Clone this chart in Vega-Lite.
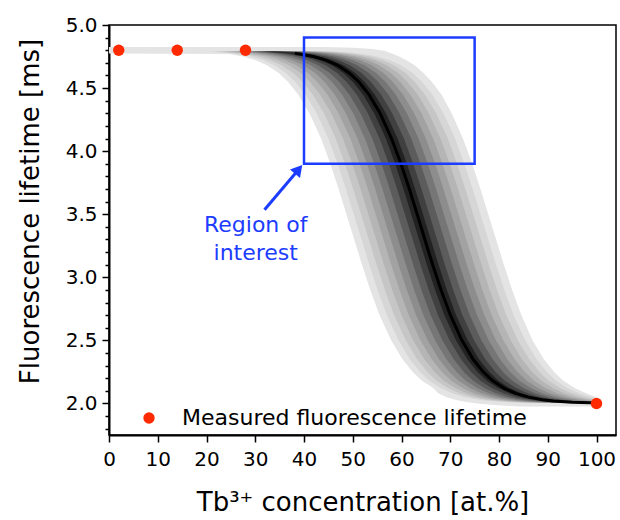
{
"$schema": "https://vega.github.io/schema/vega-lite/v6.json",
"width": 507, "height": 410,
"autosize": "none",
"padding": {"left": 109, "top": 25, "right": 4, "bottom": 85},
"config": {"font": "DejaVu Sans", "view": {"stroke": "black", "strokeWidth": 1.5}},
"resolve": {"axis": {"y": "independent"}},
"datasets": {
"bands": [
{"b":1,"y":4.826,"x":0,"x2":44},{"b":1,"y":4.82,"x":0,"x2":50},{"b":1,"y":4.81,"x":0,"x2":54},{"b":1,"y":4.795,"x":0,"x2":56.5},{"b":1,"y":4.775,"x":0,"x2":58.0},{"b":1,"y":4.77,"x":24.6,"x2":58.3},{"b":1,"y":4.75,"x":27.5,"x2":59.5},{"b":1,"y":4.72,"x":30.1,"x2":61.0},{"b":1,"y":4.68,"x":32.4,"x2":62.7},{"b":1,"y":4.62,"x":34.8,"x2":64.5},{"b":1,"y":4.55,"x":36.7,"x2":66.2},{"b":1,"y":4.45,"x":38.8,"x2":68.2},{"b":1,"y":4.3,"x":41.1,"x2":70.3},{"b":1,"y":4.1,"x":43.5,"x2":72.6},{"b":1,"y":3.9,"x":45.4,"x2":74.5},{"b":1,"y":3.7,"x":47.1,"x2":76.2},{"b":1,"y":3.5,"x":48.7,"x2":77.8},{"b":1,"y":3.3,"x":50.3,"x2":79.4},{"b":1,"y":3.1,"x":51.9,"x2":81.0},{"b":1,"y":2.9,"x":53.6,"x2":82.7},{"b":1,"y":2.7,"x":55.5,"x2":84.6},{"b":1,"y":2.5,"x":57.9,"x2":86.9},{"b":1,"y":2.35,"x":60.2,"x2":89.2},{"b":1,"y":2.25,"x":62.3,"x2":91.3},{"b":1,"y":2.18,"x":64.2,"x2":93.2},{"b":1,"y":2.12,"x":66.6,"x2":95.6},{"b":1,"y":2.08,"x":67.5,"x2":97.9},{"b":1,"y":2.05,"x":69.3,"x2":100},{"b":1,"y":2.03,"x":71.0,"x2":100},{"b":1,"y":2.02,"x":72.2,"x2":100},{"b":1,"y":2.01,"x":73.6,"x2":100},{"b":1,"y":2.0,"x":75.5,"x2":100},{"b":1,"y":1.988,"x":79,"x2":100},{"b":1,"y":1.976,"x":84,"x2":100},
{"b":2,"y":4.79,"x":20.0,"x2":46.0},{"b":2,"y":4.78,"x":23.9,"x2":49.9},{"b":2,"y":4.77,"x":26.1,"x2":52.1},{"b":2,"y":4.75,"x":29.0,"x2":55.0},{"b":2,"y":4.72,"x":31.6,"x2":57.6},{"b":2,"y":4.68,"x":33.9,"x2":59.9},{"b":2,"y":4.62,"x":36.3,"x2":62.3},{"b":2,"y":4.55,"x":38.2,"x2":64.2},{"b":2,"y":4.45,"x":40.3,"x2":66.3},{"b":2,"y":4.3,"x":42.6,"x2":68.6},{"b":2,"y":4.1,"x":45.0,"x2":71.0},{"b":2,"y":3.9,"x":46.9,"x2":72.9},{"b":2,"y":3.7,"x":48.6,"x2":74.6},{"b":2,"y":3.5,"x":50.2,"x2":76.2},{"b":2,"y":3.3,"x":51.8,"x2":77.8},{"b":2,"y":3.1,"x":53.4,"x2":79.4},{"b":2,"y":2.9,"x":55.1,"x2":81.1},{"b":2,"y":2.7,"x":57.0,"x2":83.0},{"b":2,"y":2.5,"x":59.4,"x2":85.4},{"b":2,"y":2.35,"x":61.7,"x2":87.7},{"b":2,"y":2.25,"x":63.8,"x2":89.8},{"b":2,"y":2.18,"x":65.7,"x2":91.7},{"b":2,"y":2.12,"x":68.1,"x2":94.1},{"b":2,"y":2.08,"x":70.4,"x2":96.4},{"b":2,"y":2.05,"x":73.0,"x2":99.0},{"b":2,"y":2.03,"x":75.9,"x2":100},{"b":2,"y":2.02,"x":78.1,"x2":100},{"b":2,"y":2.01,"x":82.0,"x2":100},{"b":2,"y":2.005,"x":85.8,"x2":100},
{"b":3,"y":4.79,"x":21.5,"x2":44.5},{"b":3,"y":4.78,"x":25.4,"x2":48.4},{"b":3,"y":4.77,"x":27.6,"x2":50.6},{"b":3,"y":4.75,"x":30.5,"x2":53.5},{"b":3,"y":4.72,"x":33.1,"x2":56.1},{"b":3,"y":4.68,"x":35.4,"x2":58.4},{"b":3,"y":4.62,"x":37.8,"x2":60.8},{"b":3,"y":4.55,"x":39.7,"x2":62.7},{"b":3,"y":4.45,"x":41.8,"x2":64.8},{"b":3,"y":4.3,"x":44.1,"x2":67.1},{"b":3,"y":4.1,"x":46.5,"x2":69.5},{"b":3,"y":3.9,"x":48.4,"x2":71.4},{"b":3,"y":3.7,"x":50.1,"x2":73.1},{"b":3,"y":3.5,"x":51.7,"x2":74.7},{"b":3,"y":3.3,"x":53.3,"x2":76.3},{"b":3,"y":3.1,"x":54.9,"x2":77.9},{"b":3,"y":2.9,"x":56.6,"x2":79.6},{"b":3,"y":2.7,"x":58.5,"x2":81.5},{"b":3,"y":2.5,"x":60.9,"x2":83.9},{"b":3,"y":2.35,"x":63.2,"x2":86.2},{"b":3,"y":2.25,"x":65.3,"x2":88.3},{"b":3,"y":2.18,"x":67.2,"x2":90.2},{"b":3,"y":2.12,"x":69.6,"x2":92.6},{"b":3,"y":2.08,"x":71.9,"x2":94.9},{"b":3,"y":2.05,"x":74.5,"x2":97.5},{"b":3,"y":2.03,"x":77.4,"x2":100},{"b":3,"y":2.02,"x":79.6,"x2":100},{"b":3,"y":2.01,"x":83.5,"x2":100},{"b":3,"y":2.005,"x":87.3,"x2":100},
{"b":4,"y":4.79,"x":23.0,"x2":43.0},{"b":4,"y":4.78,"x":26.9,"x2":46.9},{"b":4,"y":4.77,"x":29.1,"x2":49.1},{"b":4,"y":4.75,"x":32.0,"x2":52.0},{"b":4,"y":4.72,"x":34.6,"x2":54.6},{"b":4,"y":4.68,"x":36.9,"x2":56.9},{"b":4,"y":4.62,"x":39.3,"x2":59.3},{"b":4,"y":4.55,"x":41.2,"x2":61.2},{"b":4,"y":4.45,"x":43.3,"x2":63.3},{"b":4,"y":4.3,"x":45.6,"x2":65.6},{"b":4,"y":4.1,"x":48.0,"x2":68.0},{"b":4,"y":3.9,"x":49.9,"x2":69.9},{"b":4,"y":3.7,"x":51.6,"x2":71.6},{"b":4,"y":3.5,"x":53.2,"x2":73.2},{"b":4,"y":3.3,"x":54.8,"x2":74.8},{"b":4,"y":3.1,"x":56.4,"x2":76.4},{"b":4,"y":2.9,"x":58.1,"x2":78.1},{"b":4,"y":2.7,"x":60.0,"x2":80.0},{"b":4,"y":2.5,"x":62.4,"x2":82.4},{"b":4,"y":2.35,"x":64.7,"x2":84.7},{"b":4,"y":2.25,"x":66.8,"x2":86.8},{"b":4,"y":2.18,"x":68.7,"x2":88.7},{"b":4,"y":2.12,"x":71.1,"x2":91.1},{"b":4,"y":2.08,"x":73.4,"x2":93.4},{"b":4,"y":2.05,"x":76.0,"x2":96.0},{"b":4,"y":2.03,"x":78.9,"x2":98.9},{"b":4,"y":2.02,"x":81.1,"x2":100},{"b":4,"y":2.01,"x":85.0,"x2":100},{"b":4,"y":2.005,"x":88.8,"x2":100},
{"b":5,"y":4.79,"x":24.5,"x2":41.5},{"b":5,"y":4.78,"x":28.4,"x2":45.4},{"b":5,"y":4.77,"x":30.6,"x2":47.6},{"b":5,"y":4.75,"x":33.5,"x2":50.5},{"b":5,"y":4.72,"x":36.1,"x2":53.1},{"b":5,"y":4.68,"x":38.4,"x2":55.4},{"b":5,"y":4.62,"x":40.8,"x2":57.8},{"b":5,"y":4.55,"x":42.7,"x2":59.7},{"b":5,"y":4.45,"x":44.8,"x2":61.8},{"b":5,"y":4.3,"x":47.1,"x2":64.1},{"b":5,"y":4.1,"x":49.5,"x2":66.5},{"b":5,"y":3.9,"x":51.4,"x2":68.4},{"b":5,"y":3.7,"x":53.1,"x2":70.1},{"b":5,"y":3.5,"x":54.7,"x2":71.7},{"b":5,"y":3.3,"x":56.3,"x2":73.3},{"b":5,"y":3.1,"x":57.9,"x2":74.9},{"b":5,"y":2.9,"x":59.6,"x2":76.6},{"b":5,"y":2.7,"x":61.5,"x2":78.5},{"b":5,"y":2.5,"x":63.9,"x2":80.9},{"b":5,"y":2.35,"x":66.2,"x2":83.2},{"b":5,"y":2.25,"x":68.3,"x2":85.3},{"b":5,"y":2.18,"x":70.2,"x2":87.2},{"b":5,"y":2.12,"x":72.6,"x2":89.6},{"b":5,"y":2.08,"x":74.9,"x2":91.9},{"b":5,"y":2.05,"x":77.5,"x2":94.5},{"b":5,"y":2.03,"x":80.4,"x2":97.4},{"b":5,"y":2.02,"x":82.6,"x2":99.6},{"b":5,"y":2.01,"x":86.5,"x2":100},{"b":5,"y":2.005,"x":90.3,"x2":100},
{"b":6,"y":4.79,"x":26.0,"x2":40.0},{"b":6,"y":4.78,"x":29.9,"x2":43.9},{"b":6,"y":4.77,"x":32.1,"x2":46.1},{"b":6,"y":4.75,"x":35.0,"x2":49.0},{"b":6,"y":4.72,"x":37.6,"x2":51.6},{"b":6,"y":4.68,"x":39.9,"x2":53.9},{"b":6,"y":4.62,"x":42.3,"x2":56.3},{"b":6,"y":4.55,"x":44.2,"x2":58.2},{"b":6,"y":4.45,"x":46.3,"x2":60.3},{"b":6,"y":4.3,"x":48.6,"x2":62.6},{"b":6,"y":4.1,"x":51.0,"x2":65.0},{"b":6,"y":3.9,"x":52.9,"x2":66.9},{"b":6,"y":3.7,"x":54.6,"x2":68.6},{"b":6,"y":3.5,"x":56.2,"x2":70.2},{"b":6,"y":3.3,"x":57.8,"x2":71.8},{"b":6,"y":3.1,"x":59.4,"x2":73.4},{"b":6,"y":2.9,"x":61.1,"x2":75.1},{"b":6,"y":2.7,"x":63.0,"x2":77.0},{"b":6,"y":2.5,"x":65.4,"x2":79.4},{"b":6,"y":2.35,"x":67.7,"x2":81.7},{"b":6,"y":2.25,"x":69.8,"x2":83.8},{"b":6,"y":2.18,"x":71.7,"x2":85.7},{"b":6,"y":2.12,"x":74.1,"x2":88.1},{"b":6,"y":2.08,"x":76.4,"x2":90.4},{"b":6,"y":2.05,"x":79.0,"x2":93.0},{"b":6,"y":2.03,"x":81.9,"x2":95.9},{"b":6,"y":2.02,"x":84.1,"x2":98.1},{"b":6,"y":2.01,"x":88.0,"x2":100},{"b":6,"y":2.005,"x":91.8,"x2":100},
{"b":7,"y":4.79,"x":27.5,"x2":38.5},{"b":7,"y":4.78,"x":31.4,"x2":42.4},{"b":7,"y":4.77,"x":33.6,"x2":44.6},{"b":7,"y":4.75,"x":36.5,"x2":47.5},{"b":7,"y":4.72,"x":39.1,"x2":50.1},{"b":7,"y":4.68,"x":41.4,"x2":52.4},{"b":7,"y":4.62,"x":43.8,"x2":54.8},{"b":7,"y":4.55,"x":45.7,"x2":56.7},{"b":7,"y":4.45,"x":47.8,"x2":58.8},{"b":7,"y":4.3,"x":50.1,"x2":61.1},{"b":7,"y":4.1,"x":52.5,"x2":63.5},{"b":7,"y":3.9,"x":54.4,"x2":65.4},{"b":7,"y":3.7,"x":56.1,"x2":67.1},{"b":7,"y":3.5,"x":57.7,"x2":68.7},{"b":7,"y":3.3,"x":59.3,"x2":70.3},{"b":7,"y":3.1,"x":60.9,"x2":71.9},{"b":7,"y":2.9,"x":62.6,"x2":73.6},{"b":7,"y":2.7,"x":64.5,"x2":75.5},{"b":7,"y":2.5,"x":66.9,"x2":77.9},{"b":7,"y":2.35,"x":69.2,"x2":80.2},{"b":7,"y":2.25,"x":71.3,"x2":82.3},{"b":7,"y":2.18,"x":73.2,"x2":84.2},{"b":7,"y":2.12,"x":75.6,"x2":86.6},{"b":7,"y":2.08,"x":77.9,"x2":88.9},{"b":7,"y":2.05,"x":80.5,"x2":91.5},{"b":7,"y":2.03,"x":83.4,"x2":94.4},{"b":7,"y":2.02,"x":85.6,"x2":96.6},{"b":7,"y":2.01,"x":89.5,"x2":100},{"b":7,"y":2.005,"x":93.3,"x2":100},
{"b":8,"y":4.79,"x":29.0,"x2":37.0},{"b":8,"y":4.78,"x":32.9,"x2":40.9},{"b":8,"y":4.77,"x":35.1,"x2":43.1},{"b":8,"y":4.75,"x":38.0,"x2":46.0},{"b":8,"y":4.72,"x":40.6,"x2":48.6},{"b":8,"y":4.68,"x":42.9,"x2":50.9},{"b":8,"y":4.62,"x":45.3,"x2":53.3},{"b":8,"y":4.55,"x":47.2,"x2":55.2},{"b":8,"y":4.45,"x":49.3,"x2":57.3},{"b":8,"y":4.3,"x":51.6,"x2":59.6},{"b":8,"y":4.1,"x":54.0,"x2":62.0},{"b":8,"y":3.9,"x":55.9,"x2":63.9},{"b":8,"y":3.7,"x":57.6,"x2":65.6},{"b":8,"y":3.5,"x":59.2,"x2":67.2},{"b":8,"y":3.3,"x":60.8,"x2":68.8},{"b":8,"y":3.1,"x":62.4,"x2":70.4},{"b":8,"y":2.9,"x":64.1,"x2":72.1},{"b":8,"y":2.7,"x":66.0,"x2":74.0},{"b":8,"y":2.5,"x":68.4,"x2":76.4},{"b":8,"y":2.35,"x":70.7,"x2":78.7},{"b":8,"y":2.25,"x":72.8,"x2":80.8},{"b":8,"y":2.18,"x":74.7,"x2":82.7},{"b":8,"y":2.12,"x":77.1,"x2":85.1},{"b":8,"y":2.08,"x":79.4,"x2":87.4},{"b":8,"y":2.05,"x":82.0,"x2":90.0},{"b":8,"y":2.03,"x":84.9,"x2":92.9},{"b":8,"y":2.02,"x":87.1,"x2":95.1},{"b":8,"y":2.01,"x":91.0,"x2":99.0},{"b":8,"y":2.005,"x":94.8,"x2":100},
{"b":9,"y":4.79,"x":30.5,"x2":35.5},{"b":9,"y":4.78,"x":34.4,"x2":39.4},{"b":9,"y":4.77,"x":36.6,"x2":41.6},{"b":9,"y":4.75,"x":39.5,"x2":44.5},{"b":9,"y":4.72,"x":42.1,"x2":47.1},{"b":9,"y":4.68,"x":44.4,"x2":49.4},{"b":9,"y":4.62,"x":46.8,"x2":51.8},{"b":9,"y":4.55,"x":48.7,"x2":53.7},{"b":9,"y":4.45,"x":50.8,"x2":55.8},{"b":9,"y":4.3,"x":53.1,"x2":58.1},{"b":9,"y":4.1,"x":55.5,"x2":60.5},{"b":9,"y":3.9,"x":57.4,"x2":62.4},{"b":9,"y":3.7,"x":59.1,"x2":64.1},{"b":9,"y":3.5,"x":60.7,"x2":65.7},{"b":9,"y":3.3,"x":62.3,"x2":67.3},{"b":9,"y":3.1,"x":63.9,"x2":68.9},{"b":9,"y":2.9,"x":65.6,"x2":70.6},{"b":9,"y":2.7,"x":67.5,"x2":72.5},{"b":9,"y":2.5,"x":69.9,"x2":74.9},{"b":9,"y":2.35,"x":72.2,"x2":77.2},{"b":9,"y":2.25,"x":74.3,"x2":79.3},{"b":9,"y":2.18,"x":76.2,"x2":81.2},{"b":9,"y":2.12,"x":78.6,"x2":83.6},{"b":9,"y":2.08,"x":80.9,"x2":85.9},{"b":9,"y":2.05,"x":83.5,"x2":88.5},{"b":9,"y":2.03,"x":86.4,"x2":91.4},{"b":9,"y":2.02,"x":88.6,"x2":93.6},{"b":9,"y":2.01,"x":92.5,"x2":97.5},{"b":9,"y":2.005,"x":96.3,"x2":100},
{"b":10,"y":4.79,"x":31.8,"x2":34.2},{"b":10,"y":4.78,"x":35.7,"x2":38.1},{"b":10,"y":4.77,"x":37.9,"x2":40.3},{"b":10,"y":4.75,"x":40.8,"x2":43.2},{"b":10,"y":4.72,"x":43.4,"x2":45.8},{"b":10,"y":4.68,"x":45.7,"x2":48.1},{"b":10,"y":4.62,"x":48.1,"x2":50.5},{"b":10,"y":4.55,"x":50.0,"x2":52.4},{"b":10,"y":4.45,"x":52.1,"x2":54.5},{"b":10,"y":4.3,"x":54.4,"x2":56.8},{"b":10,"y":4.1,"x":56.8,"x2":59.2},{"b":10,"y":3.9,"x":58.7,"x2":61.1},{"b":10,"y":3.7,"x":60.4,"x2":62.8},{"b":10,"y":3.5,"x":62.0,"x2":64.4},{"b":10,"y":3.3,"x":63.6,"x2":66.0},{"b":10,"y":3.1,"x":65.2,"x2":67.6},{"b":10,"y":2.9,"x":66.9,"x2":69.3},{"b":10,"y":2.7,"x":68.8,"x2":71.2},{"b":10,"y":2.5,"x":71.2,"x2":73.6},{"b":10,"y":2.35,"x":73.5,"x2":75.9},{"b":10,"y":2.25,"x":75.6,"x2":78.0},{"b":10,"y":2.18,"x":77.5,"x2":79.9},{"b":10,"y":2.12,"x":79.9,"x2":82.3},{"b":10,"y":2.08,"x":82.2,"x2":84.6},{"b":10,"y":2.05,"x":84.8,"x2":87.2},{"b":10,"y":2.03,"x":87.7,"x2":90.1},{"b":10,"y":2.02,"x":89.9,"x2":92.3},{"b":10,"y":2.01,"x":93.8,"x2":96.2},{"b":10,"y":2.005,"x":97.6,"x2":100}
],
"center": [
{"x":38.1,"y":4.775},{"x":39.11,"y":4.77},{"x":41.96,"y":4.75},{"x":44.6,"y":4.72},{"x":46.92,"y":4.68},{"x":49.27,"y":4.62},{"x":51.23,"y":4.55},{"x":53.3,"y":4.45},{"x":55.61,"y":4.3},{"x":57.96,"y":4.1},{"x":59.89,"y":3.9},{"x":61.61,"y":3.7},{"x":63.21,"y":3.5},{"x":64.79,"y":3.3},{"x":66.39,"y":3.1},{"x":68.11,"y":2.9},{"x":70.04,"y":2.7},{"x":72.39,"y":2.5},{"x":74.7,"y":2.35},{"x":76.77,"y":2.25},{"x":78.73,"y":2.18},{"x":81.08,"y":2.12},{"x":83.4,"y":2.08},{"x":86.04,"y":2.05},{"x":88.89,"y":2.03},{"x":91.14,"y":2.02},{"x":94.97,"y":2.01},{"x":98.79,"y":2.005},{"x":100,"y":2.003}
],
"measured": [
{"x":2,"y":4.8},{"x":14,"y":4.8},{"x":28,"y":4.8},{"x":100,"y":2.0}
],
"roi": [{"x1":40,"x2":75,"y1":3.9,"y2":4.9}],
"arrow": [{"x1":31.9,"y1":3.535,"x2":38.9,"y2":3.855}],
"label": [{"x":30.1,"y":3.415,"t":"Region of\ninterest"}]
},
"layer": [
{
"data": {"name": "bands"},
"mark": {"type": "area", "orient": "horizontal", "strokeWidth": 0},
"encoding": {
"y": {"field": "y", "type": "quantitative", "scale": {"domain": [1.75, 5.0], "nice": false, "zero": false},
"axis": {"orient": "left", "values": [2.0,2.5,3.0,3.5,4.0,4.5,5.0], "format": ".1f", "tickSize": 7,
"tickWidth": 1.5, "tickColor": "black", "domainColor": "black", "domainWidth": 2,
"labelFontSize": 20, "labelColor": "black", "labelPadding": 5, "labelFlush": false, "labelOverlap": false, "grid": false,
"title": "Fluorescence lifetime [ms]", "titleFontSize": 26, "titleFontWeight": "normal", "titleColor": "black", "titlePadding": 22, "titleY": 186}},
"x": {"field": "x", "type": "quantitative", "stack": null, "scale": {"domain": [0, 104], "nice": false, "zero": false},
"axis": {"values": [0,10,20,30,40,50,60,70,80,90,100], "tickSize": 7, "tickWidth": 1.5, "tickColor": "black", "domainColor": "black", "domainWidth": 2,
"labelFontSize": 20, "labelColor": "black", "labelPadding": 7, "labelFlush": false, "grid": false,
"title": "Tb³⁺ concentration [at.%]", "titleFontSize": 26, "titleFontWeight": "normal", "titleColor": "black", "titlePadding": 20}},
"x2": {"field": "x2"},
"fill": {"field": "b", "type": "ordinal", "legend": null,
"scale": {"domain": [1,2,3,4,5,6,7,8,9,10], "range": ["#e4e4e4","#d6d6d6","#c6c6c6","#b5b5b5","#a2a2a2","#8d8d8d","#767676","#5c5c5c","#404040","#222222"]}}
}
},
{
"data": {"name": "center"},
"mark": {"type": "line", "color": "black", "strokeWidth": 3},
"encoding": {"x": {"field": "x", "type": "quantitative"},
"y": {"field": "y", "type": "quantitative",
"axis": {"orient": "left", "values": [1.8,1.9,2.1,2.2,2.3,2.4,2.6,2.7,2.8,2.9,3.1,3.2,3.3,3.4,3.6,3.7,3.8,3.9,4.1,4.2,4.3,4.4,4.6,4.7,4.8,4.9], "tickSize": 4, "tickWidth": 1.5, "tickColor": "black", "labels": false, "domain": false, "grid": false, "title": null}}}
},
{
"data": {"name": "roi"},
"mark": {"type": "rect", "fillOpacity": 0, "stroke": "#1c3cff", "strokeWidth": 2.5},
"encoding": {"x": {"field": "x1", "type": "quantitative"}, "x2": {"field": "x2"}, "y": {"field": "y1", "type": "quantitative", "axis": null}, "y2": {"field": "y2"}}
},
{
"data": {"name": "arrow"},
"mark": {"type": "rule", "color": "#1c3cff", "strokeWidth": 3},
"encoding": {"x": {"field": "x1", "type": "quantitative"}, "x2": {"field": "x2"}, "y": {"field": "y1", "type": "quantitative", "axis": null}, "y2": {"field": "y2"}}
},
{
"data": {"name": "arrow"},
"mark": {"type": "point", "shape": "triangle-up", "filled": true, "color": "#1c3cff", "size": 170, "angle": 40, "opacity": 1},
"encoding": {"x": {"field": "x2", "type": "quantitative"}, "y": {"field": "y2", "type": "quantitative", "axis": null}}
},
{
"data": {"name": "label"},
"mark": {"type": "text", "color": "#1c3cff", "fontSize": 22, "align": "center", "baseline": "middle", "lineBreak": "\n", "lineHeight": 28},
"encoding": {"x": {"field": "x", "type": "quantitative"}, "y": {"field": "y", "type": "quantitative", "axis": null}, "text": {"field": "t"}}
},
{
"data": {"name": "measured"},
"mark": {"type": "point", "filled": true, "size": 130, "opacity": 1},
"encoding": {
"x": {"field": "x", "type": "quantitative"},
"y": {"field": "y", "type": "quantitative", "axis": null},
"color": {"datum": "Measured fluorescence lifetime", "type": "nominal", "scale": {"range": ["#ff2a00"]},
"legend": {"orient": "none", "legendX": 29, "legendY": 382, "title": null, "padding": 0, "labelFontSize": 22, "labelColor": "black", "labelOffset": 22, "labelLimit": 0, "symbolSize": 130, "symbolType": "circle", "symbolStrokeWidth": 0}}
}
}
]
}
